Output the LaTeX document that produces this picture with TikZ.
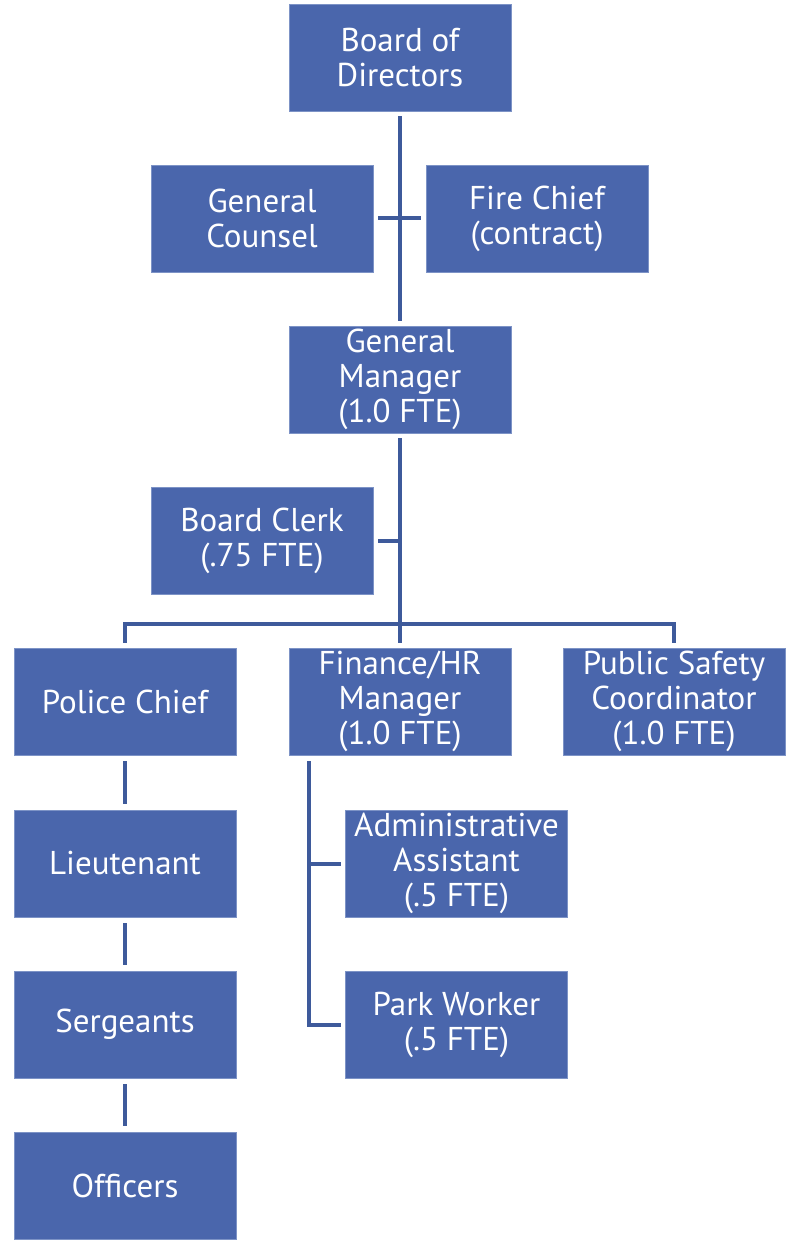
\documentclass[tikz,border=0pt]{standalone}
\usepackage{fontspec}
\setmainfont{PT Sans}
\usetikzlibrary{calc}
\definecolor{boxblue}{HTML}{4A66AC}
\definecolor{boxedge}{HTML}{7D93C6}
\definecolor{linkblue}{HTML}{3E5A9B}
\tikzset{
  orgbox/.style={rectangle, fill=boxblue, draw=boxedge, line width=0.8pt,
    minimum width=222pt, minimum height=107pt, inner sep=0pt,
    text=white, align=center, font=\fontsize{33}{35}\selectfont},
  link/.style={draw=linkblue, line width=4pt}
}
\begin{document}
\begin{tikzpicture}[x=1pt,y=-1pt]
\useasboundingbox (0,0) rectangle (788,1246);
\node[orgbox] (bod) at (400,57.5) {Board of\\Directors};
\node[orgbox] (gc) at (262,218.5) {General\\Counsel};
\node[orgbox] (fc) at (537,218.5) {Fire Chief\\(contract)};
\node[orgbox] (gm) at (400,379.5) {General\\Manager\\(1.0 FTE)};
\node[orgbox] (bc) at (262,540.5) {Board Clerk\\(.75 FTE)};
\node[orgbox] (pc) at (125,701.5) {Police Chief};
\node[orgbox] (fin) at (400,701.5) {Finance/HR\\Manager\\(1.0 FTE)};
\node[orgbox] (psc) at (674,701.5) {Public Safety\\Coordinator\\(1.0 FTE)};
\node[orgbox] (lt) at (125,863.5) {Lieutenant};
\node[orgbox] (aa) at (456.5,863.5) {Administrative\\Assistant\\(.5 FTE)};
\node[orgbox] (sg) at (125,1024.5) {Sergeants};
\node[orgbox] (pw) at (456.5,1024.5) {Park Worker\\(.5 FTE)};
\node[orgbox] (off) at (125,1185.5) {Officers};
% Board to GM with counsel/fire chief cross bar
\draw[link] ($(bod.south)+(0,5)$) -- ($(gm.north)+(0,-5)$);
\draw[link] ($(gc.east)+(5,0)$) -- ($(fc.west)+(-5,0)$);
% GM to branch bar
\coordinate (bar) at (400,624);
\draw[link] ($(gm.south)+(0,5)$) -- (bar);
\draw[link] ($(bc.east)+(5,0)$) -- (400,540.5);
\draw[link] ($(pc.north)+(0,-5)$) |- (bar) -| ($(psc.north)+(0,-5)$);
\draw[link] (bar) -- ($(fin.north)+(0,-5)$);
% Police chain
\draw[link] ($(pc.south)+(0,6)$) -- ($(lt.north)+(0,-6)$);
\draw[link] ($(lt.south)+(0,6)$) -- ($(sg.north)+(0,-6)$);
\draw[link] ($(sg.south)+(0,6)$) -- ($(off.north)+(0,-6)$);
% Finance subordinates
\coordinate (fintop) at (309,761);
\draw[link] (fintop) |- ($(pw.west)+(-4,0)$);
\draw[link] (309,863.5) -- ($(aa.west)+(-4,0)$);
\end{tikzpicture}
\end{document}
